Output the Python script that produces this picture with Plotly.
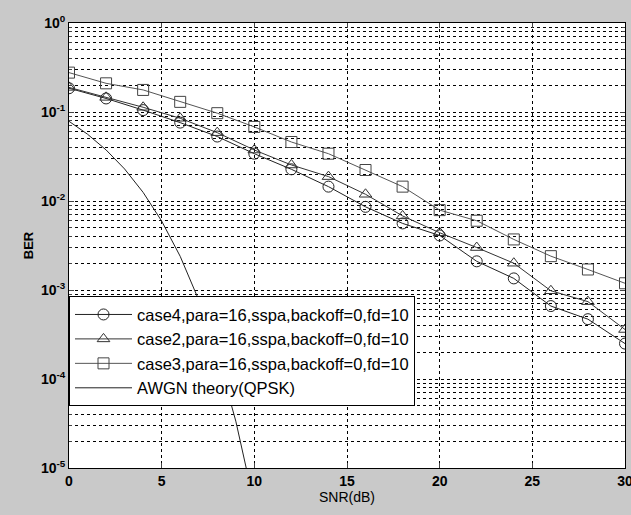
import plotly.graph_objects as go

snr = [0, 2, 4, 6, 8, 10, 12, 14, 16, 18, 20, 22, 24, 26, 28, 30]
case4 = [0.185, 0.142, 0.105, 0.076, 0.053, 0.034, 0.0227, 0.0145, 0.0086, 0.0056, 0.0041,
         0.0021, 0.00135, 0.00066, 0.00047, 0.00025]
case2 = [0.189, 0.146, 0.113, 0.085, 0.0586, 0.0374, 0.0254, 0.0188, 0.0119, 0.0068, 0.0044,
         0.003, 0.002, 0.00098, 0.00074, 0.00036]
case3 = [0.277, 0.21, 0.177, 0.13, 0.097, 0.068, 0.046, 0.034, 0.0223, 0.0145, 0.0079,
         0.006, 0.0037, 0.0024, 0.0017, 0.00119]
awgn_snr = [0, 1, 2, 3, 4, 5, 6, 7, 8, 9, 10]
awgn_ber = [0.0786, 0.0563, 0.0375, 0.0229, 0.0125, 0.00595, 0.00239, 0.000773, 0.000191,
            0.0000336, 0.0000039]

names = ["case4,para=16,sspa,backoff=0,fd=10",
         "case2,para=16,sspa,backoff=0,fd=10",
         "case3,para=16,sspa,backoff=0,fd=10",
         "AWGN theory(QPSK)"]
ytickvals = [1e-5, 1e-4, 1e-3, 1e-2, 1e-1, 1]
yticktext = ["10<sup>-5</sup>", "10<sup>-4</sup>", "10<sup>-3</sup>", "10<sup>-2</sup>",
             "10<sup>-1</sup>", "10<sup>0</sup>"]
xtickvals = [0, 5, 10, 15, 20, 25, 30]

fig = go.Figure()
fig.add_trace(go.Scatter(x=snr, y=case4, name=names[0], mode="lines+markers",
                         line=dict(color="#222", width=1),
                         marker=dict(symbol="circle-open", size=11, color="#222", line=dict(width=1))))
fig.add_trace(go.Scatter(x=snr, y=case2, name=names[1], mode="lines+markers",
                         line=dict(color="#333", width=1),
                         marker=dict(symbol="triangle-up-open", size=11, color="#333", line=dict(width=1))))
fig.add_trace(go.Scatter(x=snr, y=case3, name=names[2], mode="lines+markers",
                         line=dict(color="#555", width=1),
                         marker=dict(symbol="square-open", size=11, color="#444", line=dict(width=1))))
fig.add_trace(go.Scatter(x=awgn_snr, y=awgn_ber, name=names[3], mode="lines",
                         line=dict(color="#222", width=1)))

fig.update_layout(
    width=631, height=515,
    margin=dict(l=69, r=6, t=23, b=47, autoexpand=False),
    paper_bgcolor="#c9c9c9",
    plot_bgcolor="white",
    font=dict(family="Liberation Sans, Arial, sans-serif", color="black", size=14),
    showlegend=True,
    legend=dict(x=0, y=0.386, xanchor="left", yanchor="top",
                bgcolor="white", bordercolor="black", borderwidth=1,
                font=dict(size=16.5), tracegroupgap=0, itemwidth=57),
    xaxis=dict(range=[0, 30], tickvals=xtickvals, ticks="inside", ticklen=5,
               automargin=False, ticklabeloverflow="allow",
               showline=True, linecolor="black", linewidth=1, mirror="ticks",
               showgrid=True, gridcolor="black", gridwidth=1, griddash="dot",
               zeroline=False,
               tickfont=dict(size=14, family="Liberation Sans, Arial", weight="bold"),
               title=dict(text="SNR(dB)", standoff=2, font=dict(size=14))),
    yaxis=dict(type="log", range=[-5, 0], tickvals=ytickvals, ticktext=yticktext,
               ticks="inside", ticklen=5, automargin=False, ticklabeloverflow="allow",
               showline=True, linecolor="black", linewidth=1, mirror="ticks",
               showgrid=True, gridcolor="black", gridwidth=1, griddash="dot",
               zeroline=False,
               tickfont=dict(size=14, family="Liberation Sans, Arial", weight="bold"),
               minor=dict(dtick="D1", ticks="inside", ticklen=3, showgrid=True,
                          gridcolor="black", gridwidth=1, griddash="dot"),
               title=dict(text="BER", standoff=4, font=dict(size=13, weight="bold"))),
)

fig.write_html("out.html", config={"displayModeBar": False},
               post_script="document.body.style.margin='0';document.body.style.background='#c9c9c9';")
